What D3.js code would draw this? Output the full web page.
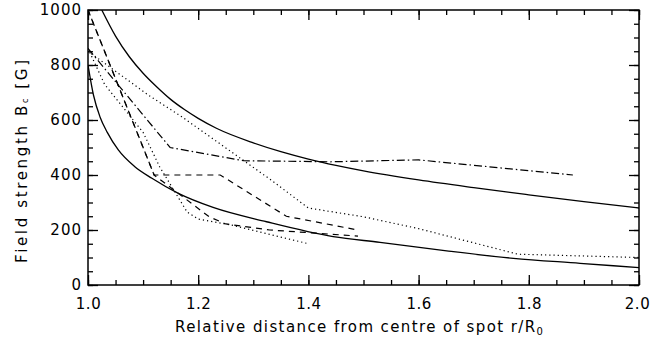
<!DOCTYPE html>
<html>
<head>
<meta charset="utf-8">
<script src="https://cdn.jsdelivr.net/npm/d3@7"></script>
<style>
	body { margin: 0; background: #fff; }
	text { font-family: "DejaVu Sans", sans-serif; fill: #000; }
	.axis text { font-size: 15px; letter-spacing: 1px; }
	.x-axis text { letter-spacing: 0.5px; }
	.axis path { display: none; }
	.axis line { stroke: #000; stroke-width: 1.3; }
</style>
</head>
<body>
<div id="chart"></div>
<script>

// values: [r/R0, B (G)]
const upperModel = [[1.025, 1000], [1.05, 905], [1.075, 830], [1.1, 770], [1.125, 720], [1.15, 675],
	[1.175, 638], [1.2, 606], [1.233, 570], [1.3, 517], [1.35, 485], [1.4, 458], [1.45, 435],
	[1.5, 415], [1.6, 382], [1.7, 354], [1.8, 328], [1.9, 303], [2.0, 280]];
const lowerModel = [[1.0, 800], [1.01, 690], [1.022, 610], [1.035, 555], [1.055, 491], [1.085, 430],
	[1.116, 388], [1.164, 333], [1.227, 282], [1.324, 230], [1.445, 176], [1.53, 155], [1.651, 124],
	[1.772, 97], [1.893, 79], [2.0, 63]];
const dashedA = [[1.0, 1000], [1.12, 400], [1.24, 400], [1.36, 250], [1.49, 200]];
const dashedB = [[1.0, 1000], [1.12, 400], [1.22, 248], [1.25, 222], [1.33, 200], [1.49, 178]];
const dashDot = [[1.0, 860], [1.149, 500], [1.282, 452], [1.44, 448], [1.6, 455], [1.88, 400]];
const dottedUpper = [[1.0, 850], [1.11, 690], [1.17, 612], [1.23, 527], [1.33, 385], [1.40, 280],
	[1.5, 248], [1.6, 205], [1.78, 112], [2.0, 100]];
const dottedLower = [[1.0, 860], [1.03, 730], [1.1, 555], [1.13, 430], [1.18, 265], [1.2, 240],
	[1.26, 218], [1.4, 150]];

const xTicks = [1.0, 1.2, 1.4, 1.6, 1.8, 2.0];
const yTicks = [0, 200, 400, 600, 800, 1000];
const xMinor = d3.range(0, 21).map(i => 1 + i * 0.05);
const yMinor = d3.range(0, 21).map(i => i * 50);


class FieldPlot {

	constructor(parentElement) {
		this._parentElement = parentElement;
	}

	initVis() {
		let vis = this;

		vis.margin = {top: 10, right: 12, bottom: 54, left: 88};
		vis.width = 651 - vis.margin.left - vis.margin.right;
		vis.height = 339 - vis.margin.top - vis.margin.bottom;

		vis.svg = d3.select("#" + vis._parentElement).append("svg")
			.attr("width", 651)
			.attr("height", 339)
			.append("g")
			.attr("transform", "translate(" + vis.margin.left + "," + vis.margin.top + ")");

		vis.x = d3.scaleLinear().domain([1, 2]).range([0, vis.width]);
		vis.y = d3.scaleLinear().domain([0, 1000]).range([vis.height, 0]);

		vis.svg.append("clipPath").attr("id", "plotClip")
			.append("rect")
			.attr("width", vis.width)
			.attr("height", vis.height);

		// curves
		vis.smooth = d3.line()
			.x(d => vis.x(d[0]))
			.y(d => vis.y(d[1]))
			.curve(d3.curveMonotoneX);
		vis.straight = d3.line()
			.x(d => vis.x(d[0]))
			.y(d => vis.y(d[1]));

		let lines = vis.svg.append("g").attr("clip-path", "url(#plotClip)");

		[upperModel, lowerModel].forEach(function(s) {
			lines.append("path").datum(s)
				.attr("fill", "none").attr("stroke", "#000").attr("stroke-width", 1.3)
				.attr("d", vis.smooth);
		});

		let styled = [
			{data: dashedA, dash: "6,5"},
			{data: dashedB, dash: "6,5", offset: 1.5},
			{data: dashDot, dash: "8,3,1.5,3"},
			{data: dottedUpper, dash: "1.2,3"},
			{data: dottedLower, dash: "1.2,3"}
		];
		styled.forEach(function(s) {
			lines.append("path").datum(s.data)
				.attr("fill", "none").attr("stroke", "#000").attr("stroke-width", 1.2)
				.style("stroke-dasharray", s.dash)
				.style("stroke-dashoffset", s.offset || 0)
				.attr("d", vis.straight);
		});

		// axes, ticks pointing inward on all four sides
		vis.svg.append("g").attr("class", "axis x-axis")
			.attr("transform", "translate(0," + vis.height + ")")
			.call(d3.axisBottom(vis.x).tickValues(xTicks).tickFormat(d3.format(".1f"))
				.tickSizeInner(-10).tickSizeOuter(0).tickPadding(13));
		vis.svg.append("g").attr("class", "axis")
			.attr("transform", "translate(0," + vis.height + ")")
			.call(d3.axisBottom(vis.x).tickValues(xMinor).tickFormat("").tickSizeInner(-5).tickSizeOuter(0));
		vis.svg.append("g").attr("class", "axis")
			.call(d3.axisTop(vis.x).tickValues(xTicks).tickFormat("").tickSizeInner(-10).tickSizeOuter(0));
		vis.svg.append("g").attr("class", "axis")
			.call(d3.axisTop(vis.x).tickValues(xMinor).tickFormat("").tickSizeInner(-5).tickSizeOuter(0));

		// last label sits on the window edge, keep it just inside
		vis.svg.select(".x-axis").selectAll(".tick:last-of-type text")
			.attr("dx", -2);

		vis.svg.append("g").attr("class", "axis")
			.call(d3.axisLeft(vis.y).tickValues(yTicks).tickFormat(d3.format("d"))
				.tickSizeInner(-10).tickSizeOuter(0).tickPadding(6));
		vis.svg.append("g").attr("class", "axis")
			.call(d3.axisLeft(vis.y).tickValues(yMinor).tickFormat("").tickSizeInner(-5).tickSizeOuter(0));
		vis.svg.append("g").attr("class", "axis")
			.attr("transform", "translate(" + vis.width + ",0)")
			.call(d3.axisRight(vis.y).tickValues(yTicks).tickFormat("").tickSizeInner(-10).tickSizeOuter(0));
		vis.svg.append("g").attr("class", "axis")
			.attr("transform", "translate(" + vis.width + ",0)")
			.call(d3.axisRight(vis.y).tickValues(yMinor).tickFormat("").tickSizeInner(-5).tickSizeOuter(0));

		// frame
		vis.svg.append("rect")
			.attr("width", vis.width)
			.attr("height", vis.height)
			.attr("fill", "none")
			.attr("stroke", "#000")
			.attr("stroke-width", 1.5);

		// axis titles
		let xt = vis.svg.append("text")
			.attr("x", 87)
			.attr("y", vis.height + 47)
			.attr("textLength", 368)
			.attr("lengthAdjust", "spacing")
			.style("font-size", "15px")
			.text("Relative distance from centre of spot r/R");
		xt.append("tspan").attr("baseline-shift", "-25%").style("font-size", "10px").text("0");

		let yt = vis.svg.append("text")
			.attr("transform", "translate(" + (-61) + "," + 253 + ") rotate(-90)")
			.attr("textLength", 203)
			.attr("lengthAdjust", "spacing")
			.style("font-size", "15px")
			.text("Field strength B");
		yt.append("tspan").attr("baseline-shift", "-15%").style("font-size", "8px").text("c");
		yt.append("tspan").text(" [G]");
	}
}

let plot = new FieldPlot("chart");
plot.initVis();

</script>
</body>
</html>
